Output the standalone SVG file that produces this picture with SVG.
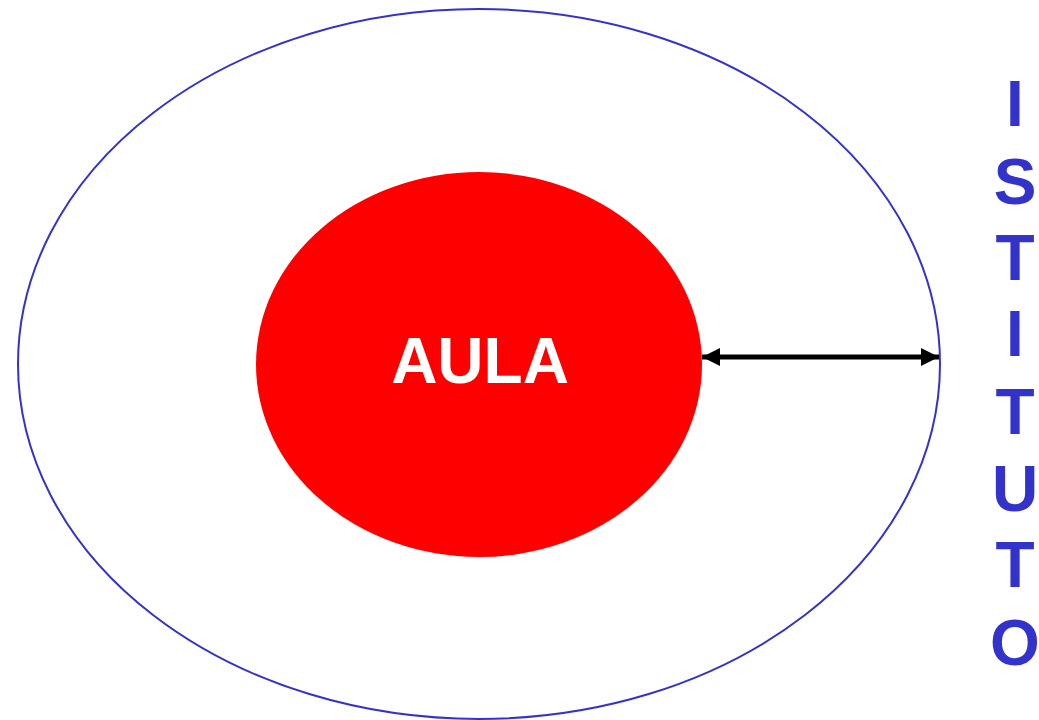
<svg xmlns="http://www.w3.org/2000/svg" width="1039" height="720" viewBox="0 0 1039 720">
<style>
.lbl{font-family:"Liberation Sans",Arial,sans-serif;font-weight:bold;text-anchor:middle}
.v{fill:#3333CC;font-size:64px}
</style>
<defs>
<marker id="ah" viewBox="0 0 10 10" refX="10" refY="5" markerWidth="18" markerHeight="18" markerUnits="userSpaceOnUse" orient="auto-start-reverse">
<path d="M0,0 L10,5 L0,10 Z" fill="#000"/>
</marker>
</defs>
<rect width="1039" height="720" fill="#fff"/>
<g id="istituto-area">
<ellipse cx="479" cy="364" rx="461" ry="355" fill="none" stroke="#3333CC" stroke-width="2"/>
</g>
<g id="aula">
<ellipse cx="479" cy="364.5" rx="223" ry="192.5" fill="#FF0000"/>
<text class="lbl" x="480" y="383" font-size="64" fill="#fff">AULA</text>
</g>
<g id="connectors">
<line x1="702" y1="357" x2="939" y2="357" stroke="#000" stroke-width="5" marker-start="url(#ah)" marker-end="url(#ah)"/>
</g>
<g id="istituto-label">
<text class="lbl v" x="1015" y="126">I</text>
<text class="lbl v" x="1015" y="204">S</text>
<text class="lbl v" x="1015" y="280">T</text>
<text class="lbl v" x="1015" y="356">I</text>
<text class="lbl v" x="1015" y="434">T</text>
<text class="lbl v" x="1015" y="511">U</text>
<text class="lbl v" x="1015" y="587">T</text>
<text class="lbl v" x="1015" y="665">O</text>
</g>
</svg>
